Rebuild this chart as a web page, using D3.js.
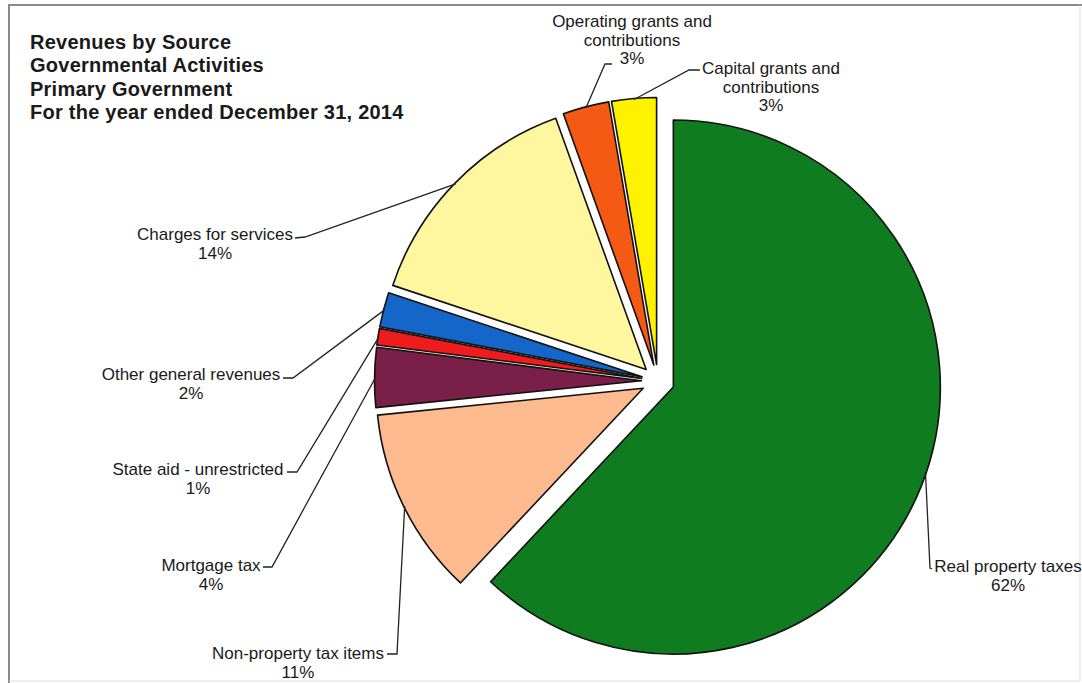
<!DOCTYPE html>
<html>
<head>
<meta charset="utf-8">
<script src="https://cdn.jsdelivr.net/npm/d3@7"></script>
<style>
  html, body { margin: 0; padding: 0; background: #fff; }
  svg { display: block; }
  text { font-family: "Liberation Sans", Arial, sans-serif; fill: #1a1a1a; }
</style>
</head>
<body>
<svg id="chart" width="1082" height="683"></svg>
<script>
// ---- data ----
const categories = [
  "Real property taxes",
  "Non-property tax items",
  "Mortgage tax",
  "State aid - unrestricted",
  "Other general revenues",
  "Charges for services",
  "Operating grants and contributions",
  "Capital grants and contributions"
];
const values = [62.0, 11.4, 3.6, 1.0, 2.1, 14.4, 2.8, 2.7];
const labelLines = [
  ["Real property taxes"],
  ["Non-property tax items"],
  ["Mortgage tax"],
  ["State aid - unrestricted"],
  ["Other general revenues"],
  ["Charges for services"],
  ["Operating grants and", "contributions"],
  ["Capital grants and", "contributions"]
];
const pctLabels = ["62%", "11%", "4%", "1%", "2%", "14%", "3%", "3%"];
const titleLines = [
  "Revenues by Source",
  "Governmental Activities",
  "Primary Government",
  "For the year ended December 31, 2014"
];

// ---- style / layout ----
const colors = ["#0E7C1F", "#FDBA8F", "#7A1F47", "#EE1C1C", "#1466C8", "#FFF7A0", "#F55A14", "#FFF200"];
const cx = 658, cy = 381, R = 267, explode = 16.5;
// label layout: x = centre of text block, y = baseline of first line,
// elbow and end = leader line path from slice to text, leadShift = angle tweak (deg)
const labelLayout = [
  { x: 1008, y: 572, elbow: [930, 568], end: [932, 569], leadShift: -3 },
  { x: 298,  y: 659, elbow: [397, 654], end: [387, 654], leadShift: 0 },
  { x: 211,  y: 571, elbow: [272, 567], end: [263, 567], leadShift: 0 },
  { x: 198,  y: 475, elbow: [297, 472], end: [287, 472], leadShift: 0 },
  { x: 191,  y: 380, elbow: [293, 378], end: [283, 378], leadShift: 0 },
  { x: 215,  y: 240, elbow: [305, 237], end: [295, 238], leadShift: 0 },
  { x: 632,  y: 27,  elbow: [605, 64],  end: [612, 64],  leadShift: 0 },
  { x: 771,  y: 74,  elbow: [689, 70],  end: [700, 70],  leadShift: 0 }
];
const lineH = 18.5;

const svg = d3.select("#chart");

// frame
svg.append("line").attr("x1", 8).attr("y1", 5).attr("x2", 1082).attr("y2", 5)
  .attr("stroke", "#8a8a8a").attr("stroke-width", 2);
svg.append("line").attr("x1", 9).attr("y1", 5).attr("x2", 9).attr("y2", 683)
  .attr("stroke", "#8a8a8a").attr("stroke-width", 2);
svg.append("line").attr("x1", 1080).attr("y1", 5).attr("x2", 1080).attr("y2", 681)
  .attr("stroke", "#dddddd").attr("stroke-width", 1);
svg.append("line").attr("x1", 9).attr("y1", 681).attr("x2", 1080).attr("y2", 681)
  .attr("stroke", "#dddddd").attr("stroke-width", 1);

// title
const title = svg.append("text").attr("x", 30).attr("y", 49)
  .attr("font-size", 20).attr("font-weight", "bold").attr("letter-spacing", 0.25);
titleLines.forEach((t, i) => {
  title.append("tspan").attr("x", 30).attr("y", 49 + i * 23.3).text(t);
});

// pie
const data = categories.map((c, i) => ({ name: c, value: values[i], i }));
const pie = d3.pie().sort(null).value(d => d.value).startAngle(0).endAngle(2 * Math.PI);
const arcs = pie(data);
const arc = d3.arc().innerRadius(0).outerRadius(R);

function dir(a) { return [Math.sin(a), -Math.cos(a)]; }

const g = svg.append("g").attr("transform", `translate(${cx},${cy})`);
g.selectAll("path.slice").data(arcs).join("path")
  .attr("class", "slice")
  .attr("transform", d => {
    const m = (d.startAngle + d.endAngle) / 2;
    const [ux, uy] = dir(m);
    return `translate(${ux * explode},${uy * explode})`;
  })
  .attr("d", arc)
  .attr("fill", d => colors[d.data.i])
  .attr("stroke", "#111")
  .attr("stroke-width", 1.6)
  .attr("stroke-linejoin", "round");

// leader lines
arcs.forEach(d => {
  const i = d.data.i;
  const L = labelLayout[i];
  const m = (d.startAngle + d.endAngle) / 2;
  const a = m + L.leadShift * Math.PI / 180;
  const [ux, uy] = dir(m);
  const [vx, vy] = dir(a);
  const sx = cx + ux * explode + vx * (R - 1);
  const sy = cy + uy * explode + vy * (R - 1);
  svg.append("path")
    .attr("d", d3.line()([[sx, sy], L.elbow, L.end]))
    .attr("fill", "none")
    .attr("stroke", "#222")
    .attr("stroke-width", 1.3);
});

// labels
arcs.forEach(d => {
  const i = d.data.i;
  const L = labelLayout[i];
  const t = svg.append("text").attr("text-anchor", "middle").attr("font-size", 17);
  const lines = labelLines[i].concat([pctLabels[i]]);
  lines.forEach((s, k) => {
    t.append("tspan").attr("x", L.x).attr("y", L.y + k * lineH).text(s);
  });
});
</script>
</body>
</html>
